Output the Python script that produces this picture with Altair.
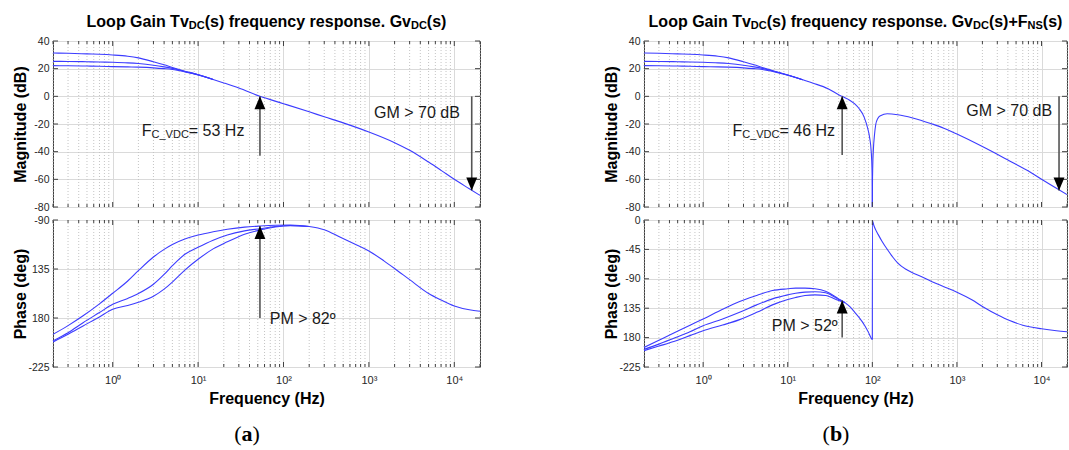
import altair as alt
import pandas as pd

# ---------------- styling ----------------
FONT = "Liberation Sans"
SERIF = "Liberation Serif"
LINE_COLOR = "#3c3cff"
GRID_MAJOR = "#dadada"
GRID_MINOR = "#c4c4c4"
FRAME = "#404040"
ARROW_COLOR = "#555555"
TEXT_COLOR = "#1a1a1a"
TICK_LABEL_COLOR = "#262626"

W_A, W_B = 427, 423
H_MAG, H_PH = 166, 147

# ---------------- axes / ticks ----------------
X_DOMAIN = [0.2, 20000]
X_MAJOR = [1, 10, 100, 1000, 10000]
X_MINOR = [0.2, 0.3, 0.4, 0.5, 0.6, 0.7, 0.8, 0.9,
           2, 3, 4, 5, 6, 7, 8, 9,
           20, 30, 40, 50, 60, 70, 80, 90,
           200, 300, 400, 500, 600, 700, 800, 900,
           2000, 3000, 4000, 5000, 6000, 7000, 8000, 9000, 20000]
X_LABEL_EXPR = "'10' + ['\u2070','\u00b9','\u00b2','\u00b3','\u2074'][round(log(datum.value) / LN10)]"
MAG_DOMAIN = [-80, 40]
MAG_TICKS = [-80, -60, -40, -20, 0, 20, 40]
PH_DOMAIN_A = [-225, -90]
PH_TICKS_A = [-225, -180, -135, -90]
PH_DOMAIN_B = [-225, 0]
PH_TICKS_B = [-225, -180, -135, -90, -45, 0]
MAG_LABEL_EXPR = "'' + datum.value"
PH_LABEL_EXPR = "datum.value == -135 ? '135' : (datum.value == -180 ? '180' : '' + datum.value)"

# ---------------- data: panel (a) ----------------
FA_MAG = [0.2, 0.3, 0.5, 0.7, 1, 1.5, 2, 3, 4, 5, 7, 10, 15, 20, 30, 53, 100, 200, 300, 500,
          1000, 2000, 3000, 5000, 7000, 10000, 15000, 20000]
MAG_A_1 = [31.3, 31.1, 30.7, 30.4, 29.9, 29.0, 27.8, 25.0, 22.8, 20.9, 18.2, 15.6, 12.2, 9.7, 6.0, 0.0,
           -5.3, -11.2, -14.8, -19.2, -25.8, -33.5, -39.0, -47.5, -53.5, -60.0, -66.8, -71.6]
FA_MAG_LOW = [0.2, 0.3, 0.5, 0.7, 1, 1.5, 2, 3, 4, 5, 7, 10, 15]
MAG_A_2 = [25.3, 25.2, 25.0, 24.8, 24.6, 24.2, 23.7, 22.5, 21.3, 20.2, 18.0, 15.6, 12.2]
MAG_A_3 = [22.2, 22.1, 21.9, 21.7, 21.5, 21.3, 21.1, 20.6, 20.0, 19.4, 17.7, 15.5, 12.2]

FA_PH = [0.2, 0.3, 0.45, 0.7, 1, 1.5, 2, 3, 4, 5, 7, 10, 15, 22, 35, 53, 80, 120, 200, 300, 457,
         700, 1000, 1500, 2000, 3000, 5000, 7000, 10000, 15000, 20000]
PH_A_1 = [-195, -187, -178, -167, -157.3, -146, -136.5, -124, -117, -112.5, -107.5, -103.8, -100.8,
          -98.5, -96.5, -95.5, -94.8, -94.6, -96, -99, -105.6, -112.5, -118.5, -127.5, -134.5,
          -144.8, -157.5, -163.5, -169, -172.5, -173.8]
FA_PH_LOW = [0.2, 0.3, 0.45, 0.7, 1, 1.5, 2, 3, 4, 5, 7, 10, 15, 22, 35, 53, 80, 120, 200]
PH_A_2 = [-201, -193.5, -184.3, -175, -167.4, -162, -157.5, -149, -140, -132, -121.5, -115, -108.5,
          -103.7, -100, -98, -96, -95, -96]
PH_A_3 = [-202, -195, -187.3, -179, -172, -168.5, -165.5, -160, -153.5, -147, -136, -126.1, -116.5,
          -110, -103, -99.2, -96.5, -95.3, -96]

# ---------------- data: panel (b) ----------------
FB_MAG_L = [0.2, 0.3, 0.5, 0.7, 1, 1.5, 2, 3, 4, 5, 7, 10, 15, 20, 30, 40, 44, 52, 62, 70, 80, 88,
            93, 97, 99, 99.7, 100]
MAG_B_1 = [31.3, 31.1, 30.7, 30.4, 29.9, 29.0, 27.8, 25.0, 22.8, 20.9, 18.2, 15.4, 12.0, 9.5, 5.5,
           1.2, 0.0, -2.2, -5.5, -9.0, -15.0, -23.0, -30.0, -40.0, -52.0, -65.0, -80.0]
FB_MAG_LOW = [0.2, 0.3, 0.5, 0.7, 1, 1.5, 2, 3, 4, 5, 7, 10, 15]
MAG_B_2 = [25.3, 25.2, 25.0, 24.8, 24.6, 24.2, 23.7, 22.5, 21.3, 20.2, 18.0, 15.4, 12.0]
MAG_B_3 = [22.2, 22.1, 21.9, 21.7, 21.5, 21.3, 21.1, 20.6, 20.0, 19.4, 17.7, 15.3, 12.0]
FB_MAG_R = [100, 100.3, 101, 103, 106, 110, 116, 125, 150, 200, 300, 500, 700, 1000, 2000, 4200,
            7000, 10000, 15000, 20000]
MAG_B_R = [-80, -65, -52, -38, -28, -20, -16, -14, -12.6, -13.3, -15.6, -19.8, -23.0, -27.3, -36.3,
           -46.7, -54.0, -60.0, -66.5, -71.0]

FB_PH_L = [0.2, 0.3, 0.45, 0.7, 1, 1.7, 2.7, 4.3, 6.6, 10, 12.4, 16, 21, 28, 40, 47.5, 55, 62, 70,
           81.5, 90, 97.3, 100]
PH_B_1 = [-195, -184, -173, -161, -151.5, -136.6, -124.8, -115.6, -108, -105.3, -104.3, -104.3,
          -105.3, -109, -120.7, -126.5, -133.5, -141.3, -149.5, -161.8, -172, -181.3, -183]
FB_PH_LOW = [0.2, 0.3, 0.45, 0.7, 1, 1.7, 2.7, 4.3, 6.6, 10, 12.4, 16, 21, 28, 40, 47.5]
PH_B_2 = [-198, -190, -181, -171, -161.8, -151.5, -141.3, -129.9, -120.7, -114.6, -112, -110.4,
          -109.9, -111.4, -121.7, -126.5]
PH_B_3 = [-200, -193, -186, -177, -169.5, -160.8, -152.5, -141.3, -129.9, -121.7, -118.5, -115.6,
          -114.6, -115.6, -123.3, -126.5]
FB_PH_R = [100, 100.2, 104, 110, 117, 130, 152, 175, 200, 250, 286, 400, 500, 700, 1000, 1500, 2070,
           3000, 4200, 6000, 10000, 15000, 20000]
PH_B_R = [-183, -1, -8, -15.5, -22, -32.5, -46, -57, -66, -75.5, -79.6, -88, -94, -102, -110.4, -122,
          -133.5, -145, -154, -161, -166.5, -169.5, -171]

# ---------------- annotations ----------------
TITLE_A = [("Loop Gain Tv", 16, "bold", 0), ("DC", 11, "bold", 2),
           ("(s) frequency response. Gv", 16, "bold", 0), ("DC", 11, "bold", 2), ("(s)", 16, "bold", 0)]
TITLE_B = [("Loop Gain Tv", 16, "bold", 0), ("DC", 11, "bold", 2),
           ("(s) frequency response. Gv", 16, "bold", 0), ("DC", 11, "bold", 2),
           ("(s)+F", 16, "bold", 0), ("NS", 11, "bold", 2), ("(s)", 16, "bold", 0)]
FC_TEXT_A = [("F", 16, "normal", 0), ("C_VDC", 11, "normal", 2), ("= 53 Hz", 16, "normal", 0)]
FC_TEXT_B = [("F", 16, "normal", 0), ("C_VDC", 11, "normal", 2), ("= 46 Hz", 16, "normal", 0)]
GM_TEXT = [("GM > 70 dB", 16, "normal", 0)]
PM_TEXT_A = [("PM > 82\u00ba", 16, "normal", 0)]
PM_TEXT_B = [("PM > 52\u00ba", 16, "normal", 0)]
LABEL_A = [("(", 22, "normal", 0), ("a", 22, "bold", 0), (")", 22, "normal", 0)]
LABEL_B = [("(", 22, "normal", 0), ("b", 22, "bold", 0), (")", 22, "normal", 0)]

# ---------------- font metrics (Arial / Times compatible) ----------------
REG = {' ': 278, '(': 333, ')': 333, '.': 278, '+': 584, '=': 584, '>': 584, '_': 556, '\u00ba': 365,
       'A': 667, 'B': 667, 'C': 722, 'D': 722, 'F': 611, 'G': 778, 'H': 722, 'L': 556, 'M': 833,
       'N': 722, 'P': 667, 'S': 667, 'T': 611, 'V': 667, 'a': 556, 'c': 500, 'd': 556, 'e': 556,
       'f': 278, 'g': 556, 'i': 222, 'n': 556, 'o': 556, 'p': 556, 'q': 556, 'r': 333, 's': 500,
       'u': 556, 'v': 500, 'y': 500, 'z': 500}
BOLD = {' ': 278, '(': 333, ')': 333, '.': 278, '+': 584, '=': 584, '>': 584, '_': 556,
        'A': 722, 'B': 722, 'C': 722, 'D': 722, 'F': 611, 'G': 778, 'H': 722, 'L': 611, 'M': 833,
        'N': 722, 'P': 667, 'S': 667, 'T': 611, 'V': 667, 'a': 556, 'c': 556, 'd': 611, 'e': 556,
        'f': 333, 'g': 611, 'i': 278, 'n': 611, 'o': 611, 'p': 611, 'q': 611, 'r': 389, 's': 556,
        'u': 611, 'v': 556, 'y': 556, 'z': 500}
TIMES = {'(': 333, ')': 333, 'a': 500, 'b': 556}


def text_w(s, size, weight, family):
    if family == SERIF:
        table = TIMES
    else:
        table = BOLD if weight == "bold" else REG
    return sum(table.get(c, 556) for c in s) * size / 1000.0


def xenc(axis):
    return alt.X("f:Q", scale=alt.Scale(type="log", domain=X_DOMAIN, nice=False), axis=axis)


def yenc(domain, axis):
    return alt.Y("v:Q", scale=alt.Scale(domain=domain, nice=False, zero=False), axis=axis)


def x_axis(phase):
    common = dict(values=X_MAJOR, grid=True, gridColor=GRID_MAJOR, gridWidth=1, ticks=False,
                  domain=False, labelFlush=False)
    if phase:
        return alt.Axis(labels=True, labelExpr=X_LABEL_EXPR, labelFont=FONT, labelFontSize=11,
                        labelColor=TICK_LABEL_COLOR, labelPadding=7, title="Frequency (Hz)",
                        titleFont=FONT, titleFontSize=16, titleFontWeight="bold", titleColor="black",
                        titlePadding=5, **common)
    return alt.Axis(labels=False, title=None, **common)


def y_axis(values, expr, title):
    return alt.Axis(values=values, labelExpr=expr, grid=True, gridColor=GRID_MAJOR, ticks=False,
                    domain=False, labelFont=FONT, labelFontSize=10.5, labelColor=TICK_LABEL_COLOR,
                    labelPadding=4, minExtent=22, maxExtent=22, title=title, titleFont=FONT,
                    titleFontSize=16, titleFontWeight="bold", titleColor="black", titlePadding=3)


def rich_pixel(segs, cx, py, family=FONT, color="black"):
    widths = [text_w(t, s, wgt, family) for t, s, wgt, _ in segs]
    x = cx - sum(widths) / 2.0
    layers = []
    for (t, s, wgt, dy), w in zip(segs, widths):
        layers.append(
            alt.Chart(pd.DataFrame({"t": [t]})).mark_text(
                align="left", baseline="alphabetic", font=family, fontSize=s, fontWeight=wgt,
                color=color, dy=dy
            ).encode(x=alt.value(x), y=alt.value(py), text="t:N")
        )
        x += w
    return layers


def rich_data(segs, f, v, X, Y):
    layers = []
    off = 0.0
    for t, s, wgt, dy in segs:
        layers.append(
            alt.Chart(pd.DataFrame({"f": [f], "v": [v], "t": [t]})).mark_text(
                align="left", baseline="alphabetic", font=FONT, fontSize=s, fontWeight=wgt,
                color=TEXT_COLOR, dx=off, dy=dy
            ).encode(x=X, y=Y, text="t:N")
        )
        off += text_w(t, s, wgt, FONT)
    return layers


UP = "M0,0L-0.42,1L0.42,1Z"
DOWN = "M0,0L-0.42,-1L0.42,-1Z"


def arrow(f, v_from, v_tip, X, Y):
    shaft = alt.Chart(pd.DataFrame({"f": [f], "v": [v_from], "v2": [v_tip]})).mark_rule(
        color=ARROW_COLOR, strokeWidth=1.6).encode(x=X, y=Y, y2="v2:Q")
    head = alt.Chart(pd.DataFrame({"f": [f], "v": [v_tip]})).mark_point(
        shape=UP if v_tip > v_from else DOWN, size=676, filled=True, color="black",
        opacity=1, strokeWidth=0).encode(x=X, y=Y)
    return [shaft, head]


def lines_df(series):
    rows = []
    for name, fs, vs in series:
        for f, v in zip(fs, vs):
            rows.append({"s": name, "f": f, "v": v})
    return pd.DataFrame(rows)


def plot(w, h, phase, ydom, yticks, yexpr, ytitle, series, extra):
    X = xenc(x_axis(phase))
    Y = yenc(ydom, y_axis(yticks, yexpr, ytitle))
    minor = alt.Chart(pd.DataFrame({"f": X_MINOR})).mark_rule(
        color=GRID_MINOR, strokeDash=[1, 2], strokeWidth=1).encode(x=X)
    lines = alt.Chart(lines_df(series)).mark_line(
        color=LINE_COLOR, strokeWidth=1.1, interpolate="monotone", clip=True
    ).encode(x=X, y=Y, detail="s:N")
    maj = pd.DataFrame({"f": X_MAJOR})
    mnr = pd.DataFrame({"f": X_MINOR})
    yt = pd.DataFrame({"v": yticks})
    ticks = [
        alt.Chart(maj).mark_rule(color=FRAME).encode(x=X, y=alt.value(h), y2=alt.value(h - 5)),
        alt.Chart(maj).mark_rule(color=FRAME).encode(x=X, y=alt.value(0), y2=alt.value(5)),
        alt.Chart(mnr).mark_rule(color=FRAME).encode(x=X, y=alt.value(h), y2=alt.value(h - 3)),
        alt.Chart(mnr).mark_rule(color=FRAME).encode(x=X, y=alt.value(0), y2=alt.value(3)),
        alt.Chart(yt).mark_rule(color=FRAME).encode(y=Y, x=alt.value(0), x2=alt.value(5)),
        alt.Chart(yt).mark_rule(color=FRAME).encode(y=Y, x=alt.value(w - 5), x2=alt.value(w)),
    ]
    layers = [minor, lines] + ticks + extra(X, Y)
    return alt.layer(*layers).properties(width=w, height=h)


# ---------------- panel (a) ----------------
mag_a = plot(
    W_A, H_MAG, False, MAG_DOMAIN, MAG_TICKS, MAG_LABEL_EXPR, "Magnitude (dB)",
    [("a1", FA_MAG, MAG_A_1), ("a2", FA_MAG_LOW, MAG_A_2), ("a3", FA_MAG_LOW, MAG_A_3)],
    lambda X, Y: arrow(53, -43, 0, X, Y) + arrow(16000, 0, -68, X, Y)
    + rich_data(FC_TEXT_A, 2.19, -28.7, X, Y) + rich_data(GM_TEXT, 1148, -15.4, X, Y)
    + rich_pixel(TITLE_A, W_A / 2.0, -14),
)
ph_a = plot(
    W_A, H_PH, True, PH_DOMAIN_A, PH_TICKS_A, PH_LABEL_EXPR, "Phase (deg)",
    [("p1", FA_PH, PH_A_1), ("p2", FA_PH_LOW, PH_A_2), ("p3", FA_PH_LOW, PH_A_3)],
    lambda X, Y: arrow(53, -180, -95.5, X, Y) + rich_data(PM_TEXT_A, 69, -185.8, X, Y)
    + rich_pixel(LABEL_A, 194, H_PH + 74, family=SERIF),
)

# ---------------- panel (b) ----------------
mag_b = plot(
    W_B, H_MAG, False, MAG_DOMAIN, MAG_TICKS, MAG_LABEL_EXPR, "Magnitude (dB)",
    [("b1", FB_MAG_L, MAG_B_1), ("b2", FB_MAG_LOW, MAG_B_2), ("b3", FB_MAG_LOW, MAG_B_3),
     ("b4", FB_MAG_R, MAG_B_R)],
    lambda X, Y: arrow(44, -42.4, 0, X, Y) + arrow(16100, 0, -68, X, Y)
    + rich_data(FC_TEXT_B, 2.22, -28.7, X, Y) + rich_data(GM_TEXT, 1292, -14.2, X, Y)
    + rich_pixel(TITLE_B, W_B / 2.0, -14),
)
ph_b = plot(
    W_B, H_PH, True, PH_DOMAIN_B, PH_TICKS_B, PH_LABEL_EXPR, "Phase (deg)",
    [("q1", FB_PH_L, PH_B_1), ("q2", FB_PH_LOW, PH_B_2), ("q3", FB_PH_LOW, PH_B_3),
     ("q4", FB_PH_R, PH_B_R)],
    lambda X, Y: arrow(44, -180, -123.3, X, Y) + rich_data(PM_TEXT_B, 6.48, -169.5, X, Y)
    + rich_pixel(LABEL_B, 192, H_PH + 74, family=SERIF),
)

left = alt.vconcat(mag_a, ph_a, spacing=1)
right = alt.vconcat(mag_b, ph_b, spacing=1)

chart = alt.hconcat(left, right, spacing=121).properties(
    padding={"left": 11, "top": 13, "right": 0, "bottom": 0},
    background="white",
).configure_view(stroke=FRAME, strokeWidth=1)

chart.save("out.html", embed_options={"renderer": "svg", "actions": False})
